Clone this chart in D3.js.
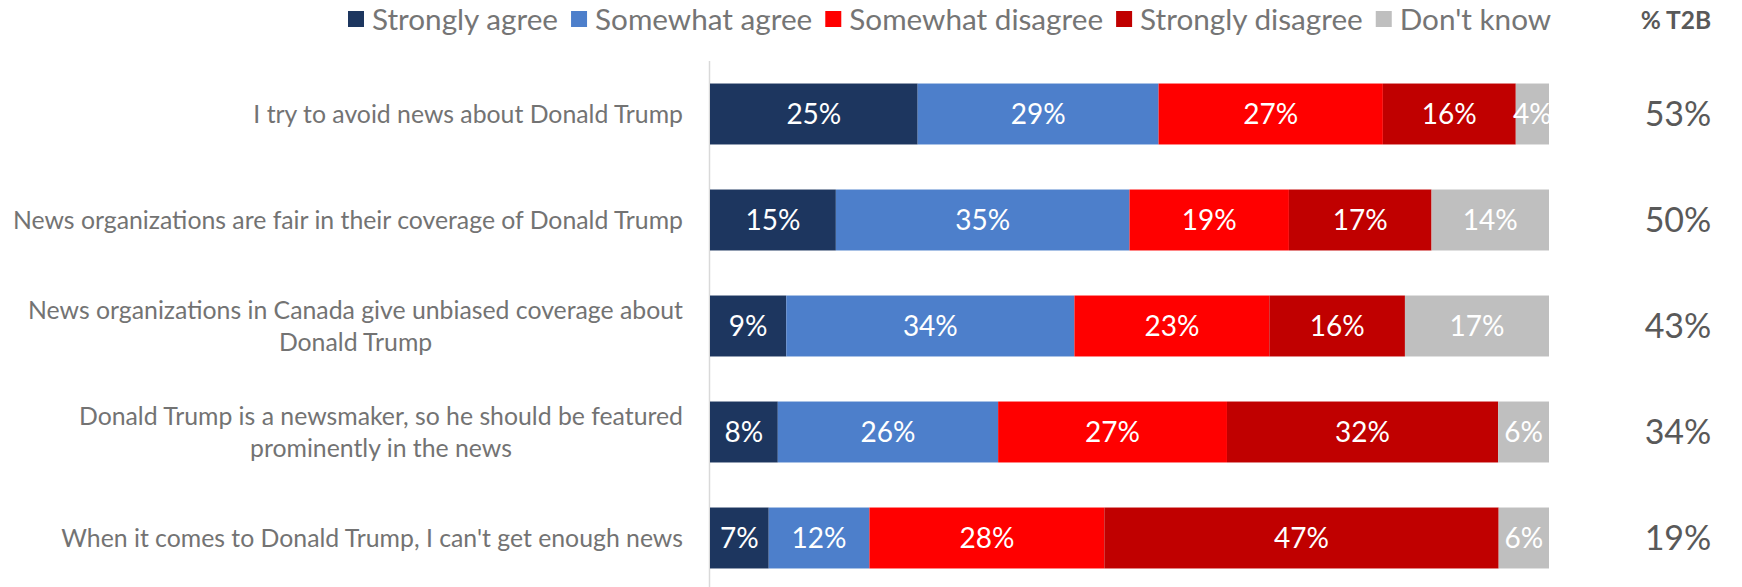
<!DOCTYPE html>
<html>
<head>
<meta charset="utf-8">
<script src="https://cdn.jsdelivr.net/npm/d3@7"></script>
<style>
  html, body { margin: 0; padding: 0; background: #fff; }
  svg { display: block; font-family: Lato, "Open Sans", sans-serif; }
</style>
</head>
<body>
<svg id="chart" width="1742" height="587"></svg>
<script>
// Statements (one per bar), each may wrap onto two lines
const statements = [
  ["I try to avoid news about Donald Trump"],
  ["News organizations are fair in their coverage of Donald Trump"],
  ["News organizations in Canada give unbiased coverage about", "Donald Trump"],
  ["Donald Trump is a newsmaker, so he should be featured", "prominently in the news"],
  ["When it comes to Donald Trump, I can't get enough news"]
];

// Response categories
const responses = ["Strongly agree", "Somewhat agree", "Somewhat disagree", "Strongly disagree", "Don't know"];

// Percent per response, one array per response category (statement order)
const stronglyAgree    = [25, 15, 9, 8, 7];
const somewhatAgree    = [29, 35, 34, 26, 12];
const somewhatDisagree = [27, 19, 23, 27, 28];
const stronglyDisagree = [16, 17, 16, 32, 47];
const dontKnow         = [4, 14, 17, 6, 6];

// Top-two-box (agree) totals
const t2b = [53, 50, 43, 34, 19];
const t2bTitle = "% T2B";

const colors = ["#1d365f", "#4d7fcb", "#ff0000", "#c00000", "#bfbfbf"];

const series = [stronglyAgree, somewhatAgree, somewhatDisagree, stronglyDisagree, dontKnow];

// Build rows: each statement's values normalised to a 100% stack
const rows = statements.map((s, i) => {
  const vals = series.map(arr => arr[i]);
  const total = d3.sum(vals);
  let acc = 0;
  const segs = vals.map((v, k) => {
    const seg = { key: responses[k], value: v, x0: acc / total, x1: (acc + v) / total, color: colors[k] };
    acc += v;
    return seg;
  });
  return { id: i, label: s, segs, t2b: t2b[i] };
});

const svg = d3.select("#chart");

const x = d3.scaleLinear().domain([0, 1]).range([710, 1549]);
const y = d3.scaleBand()
  .domain(rows.map(r => r.id))
  .range([61, 591])
  .paddingInner(0.425)
  .paddingOuter(0.2125);

// Legend across the top
const legend = svg.append("g").attr("class", "legend");
let lx = 348;
responses.forEach((name, k) => {
  legend.append("rect")
    .attr("x", lx).attr("y", 11)
    .attr("width", 16).attr("height", 16)
    .attr("fill", colors[k]);
  const t = legend.append("text")
    .attr("x", lx + 24).attr("y", 20)
    .attr("dy", "0.35em")
    .attr("font-size", 29.7)
    .attr("fill", "#757575")
    .text(name);
  lx += 24 + t.node().getComputedTextLength() + 13;
});

svg.append("text")
  .attr("x", 1676).attr("y", 20).attr("dy", "0.35em")
  .attr("text-anchor", "middle")
  .attr("font-size", 24.5)
  .attr("font-weight", "bold")
  .attr("fill", "#595959")
  .text(t2bTitle);

// Vertical category axis line
svg.append("line")
  .attr("x1", x(0) - 0.5).attr("x2", x(0) - 0.5)
  .attr("y1", 61).attr("y2", 587)
  .attr("stroke", "#d9d9d9").attr("stroke-width", 1.5);

// Stacked bars
const rowG = svg.selectAll("g.row").data(rows).join("g")
  .attr("class", "row")
  .attr("transform", d => `translate(0,${y(d.id)})`);

rowG.selectAll("rect").data(d => d.segs).join("rect")
  .attr("x", d => x(d.x0))
  .attr("width", d => x(d.x1) - x(d.x0))
  .attr("y", 0)
  .attr("height", y.bandwidth())
  .attr("fill", d => d.color);

rowG.selectAll("text.val").data(d => d.segs).join("text")
  .attr("class", "val")
  .attr("x", d => (x(d.x0) + x(d.x1)) / 2)
  .attr("y", y.bandwidth() / 2)
  .attr("dy", "0.35em")
  .attr("text-anchor", "middle")
  .attr("font-size", 28)
  .attr("fill", "#fff")
  .text(d => d.value + "%");

// Category labels: block right-aligned, lines centred within block
rowG.each(function (d) {
  const g = d3.select(this).append("g").attr("class", "cat");
  const lineH = 32;
  const n = d.label.length;
  const texts = d.label.map((line, j) => g.append("text")
    .attr("y", y.bandwidth() / 2 + (j - (n - 1) / 2) * lineH)
    .attr("dy", "0.35em")
    .attr("text-anchor", "middle")
    .attr("font-size", 24.8)
    .attr("fill", "#737373")
    .text(line));
  const w = d3.max(texts, t => t.node().getComputedTextLength());
  texts.forEach(t => t.attr("x", 683 - w / 2));
});

// T2B values on the right
rowG.append("text")
  .attr("x", 1678)
  .attr("y", y.bandwidth() / 2)
  .attr("dy", "0.35em")
  .attr("text-anchor", "middle")
  .attr("font-size", 34)
  .attr("fill", "#595959")
  .text(d => d.t2b + "%");
</script>
</body>
</html>
